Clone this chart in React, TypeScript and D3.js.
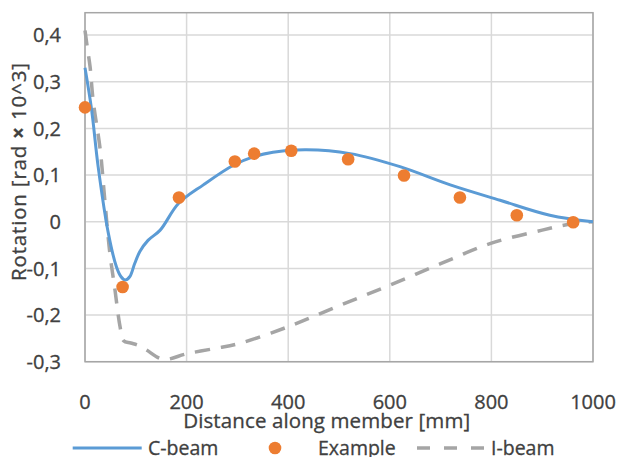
import React from "react";
import * as d3 from "d3";

const xTicks = [0, 200, 400, 600, 800, 1000];
const yTicks = [-0.3, -0.2, -0.1, 0, 0.1, 0.2, 0.3, 0.4];

const cBeamX = [0, 13, 26, 46, 62, 71, 79, 88, 98, 108, 124, 148, 184, 233, 292, 331, 370, 436, 522, 620, 719, 817, 915, 1000];
const cBeamY = [0.33, 0.24, 0.117, -0.025, -0.097, -0.118, -0.125, -0.118, -0.089, -0.064, -0.04, -0.018, 0.039, 0.079, 0.121, 0.139, 0.149, 0.154, 0.146, 0.118, 0.079, 0.046, 0.014, 0.0];

const exampleX = [0, 74, 185, 295, 333, 406, 518, 628, 738, 850, 961];
const exampleY = [0.245, -0.14, 0.052, 0.129, 0.146, 0.152, 0.134, 0.099, 0.052, 0.014, -0.001];

const iBeamX = [0, 5, 10, 16, 30, 39, 49, 59, 69, 76, 90, 105, 121, 154, 200, 259, 300, 400, 500, 600, 700, 800, 900, 950, 1000];
const iBeamY = [0.41, 0.37, 0.332, 0.26, 0.154, 0.046, -0.068, -0.146, -0.225, -0.255, -0.26, -0.265, -0.275, -0.295, -0.283, -0.271, -0.262, -0.225, -0.18, -0.136, -0.09, -0.046, -0.018, -0.006, 0.0];

const BLUE = "#5B9BD5";
const ORANGE = "#ED7D31";
const GRAY = "#A5A5A5";
const TEXT = "#404040";
const FONT = "'Open Sans', sans-serif";

export default function App() {
  const W = 618, H = 457;
  const x = d3.scaleLinear().domain([0, 1000]).range([85, 593]);
  const y = d3.scaleLinear().domain([-0.3, 0.448]).range([361.7, 12.7]);

  const line = d3
    .line<[number, number]>()
    .x((d) => x(d[0]))
    .y((d) => y(d[1]))
    .curve(d3.curveCatmullRom.alpha(0.5));

  const cData = cBeamX.map((v, i) => [v, cBeamY[i]] as [number, number]);
  const iData = iBeamX.map((v, i) => [v, iBeamY[i]] as [number, number]);

  const [x0, x1] = x.range();
  const yTop = y(0.448);
  const yBot = y(-0.3);
  const legY = 448;
  const txt = { fill: TEXT, stroke: TEXT, strokeWidth: 0.3 };

  return (
    <svg width={W} height={H} style={{ position: "absolute", left: 0, top: 0 }} fontFamily={FONT}>
      <rect width={W} height={H} fill="#fff" />
      {yTicks.map((t) => (
        <line key={"gy" + t} x1={x0} x2={x1} y1={y(t)} y2={y(t)} stroke="#D9D9D9" strokeWidth={1.5} />
      ))}
      {xTicks.map((t) => (
        <line key={"gx" + t} x1={x(t)} x2={x(t)} y1={yTop} y2={yBot} stroke="#D9D9D9" strokeWidth={1.5} />
      ))}
      <rect x={x0} y={yTop} width={x1 - x0} height={yBot - yTop} fill="none" stroke="#A6A6A6" strokeWidth={1.5} />
      {yTicks.map((t) => (
        <text key={"ly" + t} x={61} y={y(t)} dy="0.36em" textAnchor="end" fontSize={20} {...txt}>
          {Math.abs(t) < 1e-9 ? "0" : d3.format(".1f")(t).replace("−", "-").replace(".", ",")}
        </text>
      ))}
      {xTicks.map((t) => (
        <text key={"lx" + t} x={x(t)} y={402} dy="0.36em" textAnchor="middle" fontSize={20} {...txt}>
          {t}
        </text>
      ))}
      <text x={326.7} y={428.3} textAnchor="middle" fontSize={20.5} textLength={287} lengthAdjust="spacing" {...txt}>
        Distance along member [mm]
      </text>
      <text transform="translate(26,172) rotate(-90)" textAnchor="middle" fontSize={20.5} textLength={218} lengthAdjust="spacing" {...txt}>
        Rotation [rad <tspan fontWeight="bold">×</tspan> 10^3]
      </text>
      <path d={line(iData) || ""} fill="none" stroke={GRAY} strokeWidth={3.5} strokeDasharray="15 11" />
      <path d={line(cData) || ""} fill="none" stroke={BLUE} strokeWidth={3} />
      {exampleX.map((v, i) => (
        <circle key={"p" + i} cx={x(v)} cy={y(exampleY[i])} r={6.3} fill={ORANGE} />
      ))}
      <line x1={72.7} x2={141.7} y1={legY} y2={legY} stroke={BLUE} strokeWidth={3} />
      <text x={148} y={legY} dy="0.36em" fontSize={19.5} {...txt}>C-beam</text>
      <circle cx={275} cy={legY} r={6.3} fill={ORANGE} />
      <text x={318} y={legY} dy="0.36em" fontSize={19.5} {...txt}>Example</text>
      <line x1={417} x2={487} y1={legY} y2={legY} stroke={GRAY} strokeWidth={3.5} strokeDasharray="13 14" />
      <text x={491} y={legY} dy="0.36em" fontSize={19.5} {...txt}>I-beam</text>
    </svg>
  );
}
